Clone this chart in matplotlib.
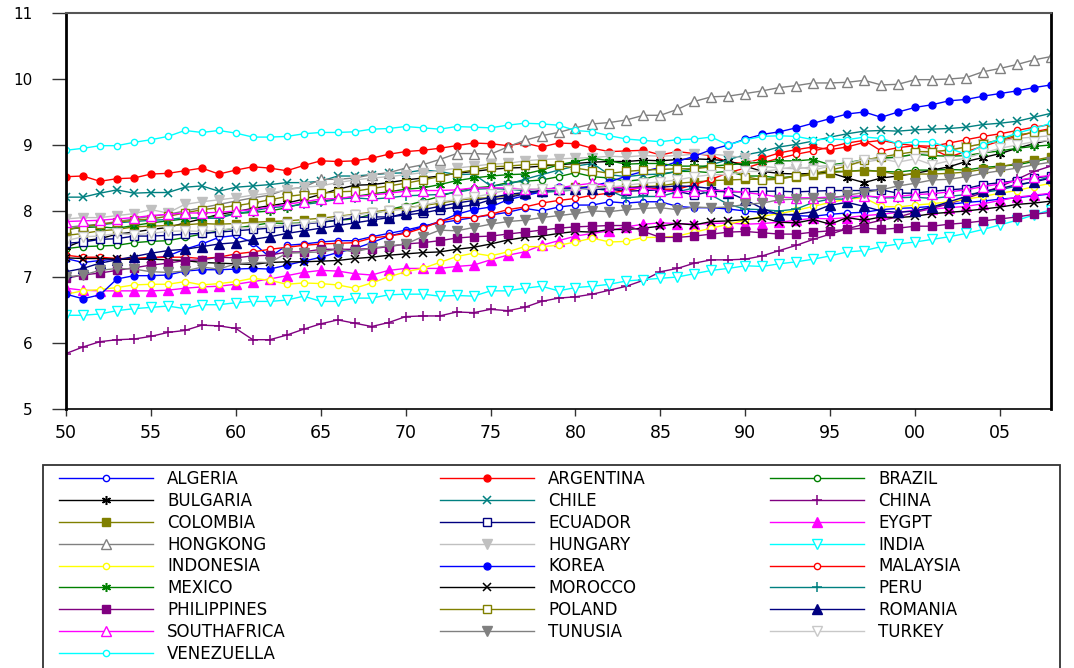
import matplotlib
matplotlib.use("Agg")
import matplotlib.pyplot as plt
from matplotlib.patches import Rectangle

plt.rcParams['font.family'] = ['DejaVu Sans']

years = list(range(1950, 2009))

countries = ["ALGERIA", "ARGENTINA", "BRAZIL", "BULGARIA", "CHILE", "CHINA",
             "COLOMBIA", "ECUADOR", "EYGPT", "HONGKONG", "HUNGARY", "INDIA",
             "INDONESIA", "KOREA", "MALAYSIA", "MEXICO", "MOROCCO", "PERU",
             "PHILIPPINES", "POLAND", "ROMANIA", "SOUTHAFRICA", "TUNUSIA",
             "TURKEY", "VENEZUELLA"]

algeria = [7.28, 7.22, 7.25, 7.27, 7.27, 7.28, 7.32, 7.42, 7.50, 7.60,
           7.63, 7.52, 7.30, 7.48, 7.50, 7.53, 7.55, 7.55, 7.61, 7.66,
           7.71, 7.77, 7.82, 7.86, 7.90, 7.94, 7.98, 8.04, 8.00, 8.06,
           8.09, 8.09, 8.14, 8.12, 8.14, 8.14, 8.07, 8.05, 8.05, 8.03,
           8.00, 7.98, 7.96, 7.93, 7.92, 7.95, 7.97, 7.98, 8.02, 8.04,
           8.05, 8.07, 8.10, 8.13, 8.15, 8.18, 8.20, 8.23, 8.26]
argentina = [8.52, 8.53, 8.45, 8.49, 8.50, 8.56, 8.57, 8.61, 8.65, 8.56,
             8.62, 8.67, 8.65, 8.61, 8.69, 8.76, 8.75, 8.76, 8.80, 8.86,
             8.90, 8.92, 8.95, 8.99, 9.03, 9.02, 8.99, 9.03, 8.97, 9.03,
             9.02, 8.95, 8.90, 8.91, 8.92, 8.85, 8.90, 8.87, 8.84, 8.74,
             8.72, 8.80, 8.88, 8.93, 8.97, 8.93, 8.97, 9.04, 9.07, 9.02,
             8.99, 8.94, 8.82, 8.90, 8.98, 9.06, 9.13, 9.20, 9.25]
brazil = [7.43, 7.46, 7.47, 7.48, 7.52, 7.54, 7.55, 7.60, 7.65, 7.70,
          7.74, 7.78, 7.82, 7.81, 7.82, 7.83, 7.86, 7.88, 7.95, 8.02,
          8.08, 8.15, 8.22, 8.30, 8.35, 8.37, 8.43, 8.45, 8.47, 8.52,
          8.58, 8.52, 8.50, 8.45, 8.48, 8.55, 8.60, 8.60, 8.58, 8.60,
          8.53, 8.53, 8.50, 8.53, 8.57, 8.60, 8.60, 8.62, 8.60, 8.59,
          8.62, 8.62, 8.63, 8.62, 8.66, 8.68, 8.70, 8.75, 8.80]
bulgaria = [7.45, 7.55, 7.58, 7.65, 7.68, 7.72, 7.75, 7.82, 7.88, 7.95,
            7.99, 8.04, 8.08, 8.12, 8.18, 8.25, 8.33, 8.39, 8.40, 8.43,
            8.47, 8.50, 8.53, 8.57, 8.60, 8.63, 8.65, 8.66, 8.68, 8.70,
            8.72, 8.74, 8.75, 8.75, 8.77, 8.76, 8.78, 8.79, 8.78, 8.76,
            8.68, 8.60, 8.57, 8.56, 8.57, 8.58, 8.50, 8.43, 8.50, 8.53,
            8.57, 8.62, 8.67, 8.75, 8.81, 8.87, 8.95, 9.02, 9.08]
chile = [8.21, 8.21, 8.27, 8.32, 8.27, 8.28, 8.28, 8.36, 8.38, 8.30,
         8.36, 8.38, 8.40, 8.43, 8.43, 8.45, 8.53, 8.53, 8.55, 8.57,
         8.58, 8.62, 8.60, 8.55, 8.56, 8.38, 8.40, 8.48, 8.55, 8.62,
         8.68, 8.72, 8.55, 8.52, 8.55, 8.56, 8.60, 8.64, 8.70, 8.78,
         8.85, 8.90, 8.97, 9.01, 9.06, 9.12, 9.17, 9.21, 9.22, 9.21,
         9.23, 9.24, 9.25, 9.27, 9.31, 9.33, 9.36, 9.42, 9.48]
china = [5.84, 5.94, 6.02, 6.05, 6.06, 6.10, 6.16, 6.19, 6.27, 6.26,
         6.22, 6.05, 6.05, 6.12, 6.21, 6.29, 6.35, 6.30, 6.25, 6.31,
         6.40, 6.41, 6.41, 6.47, 6.46, 6.51, 6.49, 6.54, 6.63, 6.68,
         6.70, 6.74, 6.80, 6.86, 6.95, 7.08, 7.13, 7.21, 7.26, 7.26,
         7.27, 7.32, 7.40, 7.48, 7.57, 7.65, 7.73, 7.80, 7.86, 7.91,
         7.98, 8.04, 8.11, 8.19, 8.28, 8.37, 8.48, 8.60, 8.68]
colombia = [7.63, 7.66, 7.70, 7.72, 7.76, 7.77, 7.78, 7.79, 7.81, 7.80,
            7.81, 7.83, 7.84, 7.85, 7.87, 7.89, 7.92, 7.95, 7.98, 8.02,
            8.05, 8.08, 8.12, 8.16, 8.19, 8.20, 8.23, 8.26, 8.31, 8.34,
            8.36, 8.37, 8.36, 8.36, 8.37, 8.38, 8.42, 8.44, 8.46, 8.47,
            8.48, 8.48, 8.50, 8.52, 8.55, 8.58, 8.60, 8.61, 8.60, 8.55,
            8.56, 8.56, 8.57, 8.59, 8.63, 8.67, 8.72, 8.77, 8.82]
ecuador = [7.51, 7.53, 7.57, 7.58, 7.62, 7.62, 7.63, 7.65, 7.66, 7.68,
           7.70, 7.72, 7.74, 7.76, 7.80, 7.83, 7.86, 7.90, 7.91, 7.91,
           7.94, 7.97, 8.02, 8.06, 8.09, 8.17, 8.20, 8.26, 8.29, 8.32,
           8.34, 8.36, 8.33, 8.30, 8.31, 8.32, 8.30, 8.24, 8.30, 8.29,
           8.29, 8.30, 8.30, 8.29, 8.30, 8.31, 8.31, 8.31, 8.32, 8.27,
           8.27, 8.30, 8.32, 8.34, 8.40, 8.43, 8.46, 8.50, 8.53]
egypt = [6.83, 6.80, 6.79, 6.79, 6.79, 6.79, 6.80, 6.83, 6.85, 6.86,
         6.89, 6.93, 6.97, 7.02, 7.07, 7.10, 7.09, 7.05, 7.03, 7.10,
         7.13, 7.13, 7.13, 7.16, 7.18, 7.26, 7.33, 7.38, 7.48, 7.55,
         7.62, 7.66, 7.70, 7.76, 7.80, 7.82, 7.81, 7.80, 7.81, 7.82,
         7.80, 7.81, 7.83, 7.86, 7.89, 7.88, 7.90, 7.93, 7.95, 7.98,
         8.01, 8.03, 8.05, 8.07, 8.11, 8.16, 8.21, 8.24, 8.27]
hongkong = [7.75, 7.78, 7.80, 7.84, 7.88, 7.92, 7.95, 8.00, 8.05, 8.10,
            8.15, 8.20, 8.24, 8.33, 8.36, 8.48, 8.48, 8.50, 8.55, 8.58,
            8.65, 8.70, 8.78, 8.87, 8.87, 8.86, 8.97, 9.07, 9.14, 9.19,
            9.26, 9.32, 9.34, 9.38, 9.45, 9.45, 9.54, 9.66, 9.73, 9.74,
            9.78, 9.82, 9.87, 9.90, 9.94, 9.94, 9.95, 9.98, 9.91, 9.92,
            9.99, 9.99, 10.00, 10.02, 10.11, 10.16, 10.22, 10.29, 10.34]
hungary = [7.88, 7.90, 7.90, 7.93, 7.96, 8.02, 7.97, 8.10, 8.14, 8.17,
           8.20, 8.24, 8.27, 8.32, 8.36, 8.38, 8.43, 8.47, 8.50, 8.52,
           8.55, 8.58, 8.61, 8.65, 8.68, 8.71, 8.72, 8.76, 8.78, 8.79,
           8.80, 8.81, 8.83, 8.82, 8.84, 8.83, 8.84, 8.86, 8.86, 8.84,
           8.80, 8.68, 8.65, 8.64, 8.67, 8.69, 8.70, 8.74, 8.78, 8.81,
           8.86, 8.89, 8.93, 8.97, 9.02, 9.06, 9.10, 9.12, 9.14]
india = [6.42, 6.42, 6.44, 6.49, 6.52, 6.54, 6.56, 6.52, 6.58, 6.58,
         6.61, 6.63, 6.63, 6.65, 6.71, 6.63, 6.63, 6.68, 6.68, 6.73,
         6.74, 6.74, 6.71, 6.72, 6.71, 6.79, 6.79, 6.83, 6.86, 6.79,
         6.84, 6.86, 6.89, 6.94, 6.96, 6.98, 7.00, 7.05, 7.10, 7.13,
         7.17, 7.16, 7.20, 7.23, 7.27, 7.32, 7.38, 7.40, 7.46, 7.50,
         7.53, 7.57, 7.61, 7.66, 7.72, 7.79, 7.86, 7.94, 8.02]
indonesia = [6.74, 6.79, 6.81, 6.84, 6.88, 6.89, 6.89, 6.93, 6.88, 6.90,
             6.93, 6.98, 6.95, 6.89, 6.91, 6.90, 6.88, 6.83, 6.91, 7.00,
             7.08, 7.13, 7.22, 7.31, 7.36, 7.32, 7.38, 7.46, 7.46, 7.48,
             7.53, 7.59, 7.53, 7.54, 7.60, 7.60, 7.62, 7.68, 7.74, 7.80,
             7.86, 7.92, 7.96, 8.01, 8.07, 8.13, 8.18, 8.20, 8.07, 8.06,
             8.09, 8.11, 8.14, 8.18, 8.22, 8.27, 8.31, 8.37, 8.42]
korea = [6.74, 6.67, 6.73, 6.97, 7.02, 7.02, 7.03, 7.09, 7.11, 7.11,
         7.12, 7.13, 7.12, 7.18, 7.24, 7.30, 7.37, 7.43, 7.52, 7.62,
         7.68, 7.76, 7.84, 7.95, 8.02, 8.06, 8.17, 8.23, 8.29, 8.37,
         8.33, 8.38, 8.44, 8.53, 8.60, 8.66, 8.75, 8.83, 8.93, 9.00,
         9.09, 9.16, 9.20, 9.26, 9.33, 9.40, 9.47, 9.50, 9.42, 9.50,
         9.57, 9.61, 9.67, 9.69, 9.74, 9.78, 9.82, 9.87, 9.91]
malaysia = [7.33, 7.30, 7.30, 7.28, 7.28, 7.30, 7.30, 7.30, 7.28, 7.30,
            7.35, 7.38, 7.42, 7.45, 7.48, 7.50, 7.51, 7.52, 7.59, 7.62,
            7.66, 7.74, 7.84, 7.90, 7.90, 7.95, 8.02, 8.06, 8.12, 8.16,
            8.19, 8.24, 8.27, 8.31, 8.36, 8.33, 8.33, 8.40, 8.48, 8.58,
            8.65, 8.73, 8.80, 8.86, 8.91, 8.97, 9.03, 9.07, 8.91, 8.96,
            8.99, 8.98, 9.03, 9.08, 9.13, 9.17, 9.22, 9.27, 9.31]
mexico = [7.72, 7.75, 7.76, 7.74, 7.78, 7.82, 7.85, 7.88, 7.90, 7.92,
          7.96, 7.98, 8.00, 8.05, 8.12, 8.15, 8.18, 8.22, 8.26, 8.29,
          8.33, 8.35, 8.40, 8.46, 8.50, 8.53, 8.55, 8.56, 8.62, 8.70,
          8.75, 8.80, 8.76, 8.71, 8.72, 8.72, 8.68, 8.68, 8.68, 8.70,
          8.72, 8.74, 8.76, 8.76, 8.78, 8.70, 8.73, 8.78, 8.80, 8.82,
          8.86, 8.84, 8.83, 8.84, 8.88, 8.91, 8.95, 8.98, 9.00]
morocco = [7.29, 7.28, 7.28, 7.27, 7.27, 7.27, 7.26, 7.25, 7.22, 7.21,
           7.20, 7.19, 7.22, 7.23, 7.23, 7.24, 7.25, 7.28, 7.30, 7.33,
           7.35, 7.37, 7.38, 7.42, 7.45, 7.50, 7.56, 7.60, 7.62, 7.66,
           7.69, 7.68, 7.72, 7.72, 7.74, 7.77, 7.81, 7.79, 7.84, 7.85,
           7.87, 7.90, 7.83, 7.82, 7.87, 7.80, 7.90, 7.86, 7.91, 7.90,
           7.92, 7.96, 7.98, 8.00, 8.03, 8.06, 8.10, 8.12, 8.15]
peru = [7.72, 7.76, 7.79, 7.82, 7.84, 7.86, 7.87, 7.90, 7.89, 7.89,
        7.96, 8.00, 8.05, 8.07, 8.10, 8.13, 8.18, 8.20, 8.18, 8.20,
        8.23, 8.24, 8.25, 8.28, 8.33, 8.34, 8.33, 8.31, 8.28, 8.30,
        8.32, 8.34, 8.31, 8.20, 8.22, 8.22, 8.29, 8.35, 8.24, 8.10,
        8.03, 8.02, 8.00, 8.03, 8.13, 8.18, 8.18, 8.23, 8.20, 8.20,
        8.21, 8.19, 8.22, 8.25, 8.28, 8.32, 8.38, 8.45, 8.52]
philippines = [6.98, 7.03, 7.06, 7.10, 7.14, 7.18, 7.21, 7.25, 7.26, 7.30,
               7.29, 7.32, 7.33, 7.38, 7.38, 7.42, 7.42, 7.42, 7.43, 7.46,
               7.50, 7.52, 7.55, 7.59, 7.61, 7.62, 7.65, 7.68, 7.71, 7.74,
               7.76, 7.77, 7.78, 7.78, 7.69, 7.60, 7.60, 7.62, 7.65, 7.68,
               7.69, 7.67, 7.65, 7.65, 7.68, 7.70, 7.72, 7.74, 7.72, 7.74,
               7.77, 7.77, 7.80, 7.82, 7.85, 7.88, 7.91, 7.95, 7.98]
poland = [7.72, 7.76, 7.80, 7.83, 7.86, 7.88, 7.92, 7.97, 8.02, 8.05,
          8.08, 8.12, 8.17, 8.22, 8.25, 8.27, 8.29, 8.30, 8.34, 8.38,
          8.42, 8.47, 8.52, 8.58, 8.62, 8.67, 8.68, 8.70, 8.71, 8.69,
          8.65, 8.61, 8.57, 8.60, 8.62, 8.63, 8.64, 8.64, 8.67, 8.65,
          8.52, 8.47, 8.48, 8.53, 8.57, 8.62, 8.68, 8.77, 8.82, 8.86,
          8.90, 8.90, 8.92, 8.97, 9.02, 9.08, 9.15, 9.19, 9.23]
romania = [7.08, 7.13, 7.21, 7.26, 7.31, 7.36, 7.40, 7.42, 7.46, 7.50,
           7.52, 7.57, 7.61, 7.66, 7.70, 7.74, 7.78, 7.82, 7.86, 7.90,
           7.97, 8.02, 8.07, 8.12, 8.16, 8.20, 8.25, 8.28, 8.31, 8.33,
           8.33, 8.33, 8.33, 8.34, 8.37, 8.36, 8.38, 8.37, 8.34, 8.28,
           8.17, 8.04, 7.94, 7.95, 7.99, 8.09, 8.13, 8.07, 8.00, 7.98,
           8.00, 8.06, 8.14, 8.22, 8.30, 8.34, 8.40, 8.44, 8.50]
southafrica = [7.84, 7.85, 7.86, 7.88, 7.90, 7.93, 7.95, 7.97, 7.97, 7.98,
               8.00, 8.02, 8.06, 8.10, 8.14, 8.18, 8.19, 8.22, 8.24, 8.27,
               8.30, 8.31, 8.31, 8.32, 8.35, 8.35, 8.35, 8.33, 8.33, 8.35,
               8.39, 8.42, 8.38, 8.34, 8.35, 8.31, 8.29, 8.30, 8.31, 8.31,
               8.28, 8.25, 8.21, 8.20, 8.20, 8.21, 8.22, 8.23, 8.21, 8.22,
               8.25, 8.26, 8.29, 8.32, 8.37, 8.41, 8.46, 8.51, 8.54]
tunisia = [7.00, 7.03, 7.10, 7.13, 7.12, 7.08, 7.07, 7.09, 7.15, 7.12,
           7.20, 7.22, 7.22, 7.36, 7.37, 7.38, 7.42, 7.38, 7.44, 7.47,
           7.50, 7.61, 7.71, 7.70, 7.75, 7.80, 7.84, 7.86, 7.90, 7.93,
           7.96, 8.00, 7.99, 8.02, 8.04, 8.05, 8.02, 8.06, 8.05, 8.06,
           8.10, 8.12, 8.17, 8.18, 8.19, 8.19, 8.24, 8.28, 8.32, 8.38,
           8.42, 8.47, 8.48, 8.52, 8.57, 8.61, 8.65, 8.70, 8.74]
turkey = [7.55, 7.61, 7.62, 7.66, 7.64, 7.66, 7.69, 7.70, 7.69, 7.71,
          7.74, 7.75, 7.76, 7.80, 7.81, 7.84, 7.91, 7.94, 7.97, 8.00,
          8.03, 8.09, 8.14, 8.17, 8.21, 8.26, 8.32, 8.34, 8.33, 8.32,
          8.32, 8.34, 8.36, 8.39, 8.42, 8.44, 8.47, 8.52, 8.55, 8.55,
          8.60, 8.60, 8.63, 8.68, 8.62, 8.68, 8.72, 8.78, 8.79, 8.74,
          8.79, 8.70, 8.76, 8.80, 8.88, 8.95, 9.00, 9.05, 9.07]
venezuela = [8.92, 8.95, 8.99, 8.99, 9.04, 9.08, 9.13, 9.22, 9.19, 9.22,
             9.18, 9.12, 9.12, 9.13, 9.17, 9.19, 9.19, 9.20, 9.24, 9.25,
             9.28, 9.26, 9.24, 9.28, 9.27, 9.26, 9.30, 9.33, 9.32, 9.30,
             9.22, 9.20, 9.14, 9.09, 9.07, 9.05, 9.08, 9.09, 9.12, 9.00,
             9.08, 9.13, 9.14, 9.13, 9.08, 9.09, 9.08, 9.12, 9.10, 9.02,
             9.05, 9.05, 8.95, 8.86, 9.00, 9.09, 9.18, 9.25, 9.33]

series_values = [algeria, argentina, brazil, bulgaria, chile, china, colombia,
                 ecuador, egypt, hongkong, hungary, india, indonesia, korea,
                 malaysia, mexico, morocco, peru, philippines, poland, romania,
                 southafrica, tunisia, turkey, venezuela]

xtick_years = list(range(1950, 2009, 5))
xtick_labels = ["50", "55", "60", "65", "70", "75", "80", "85", "90", "95", "00", "05"]
ytick_values = [5, 6, 7, 8, 9, 10, 11]

# style: (color, marker, filled, markersize)
styles = [
    ("#0000FF", "o", False, 4.5),   # ALGERIA
    ("#FF0000", "o", True, 5.0),    # ARGENTINA
    ("#008000", "o", False, 4.5),   # BRAZIL
    ("#000000", (6, 2, 0), True, 6.5),  # BULGARIA
    ("#008080", "x", True, 5.5),    # CHILE
    ("#800080", "+", True, 6.5),    # CHINA
    ("#808000", "s", True, 5.5),    # COLOMBIA
    ("#000080", "s", False, 5.5),   # ECUADOR
    ("#FF00FF", "^", True, 6.5),    # EYGPT
    ("#808080", "^", False, 6.5),   # HONGKONG
    ("#C0C0C0", "v", True, 6.5),    # HUNGARY
    ("#00FFFF", "v", False, 6.5),   # INDIA
    ("#FFFF00", "o", False, 4.5),   # INDONESIA
    ("#0000FF", "o", True, 5.0),    # KOREA
    ("#FF0000", "o", False, 4.5),   # MALAYSIA
    ("#008000", (6, 2, 0), True, 6.5),  # MEXICO
    ("#000000", "x", True, 5.5),    # MOROCCO
    ("#008080", "+", True, 6.5),    # PERU
    ("#800080", "s", True, 5.5),    # PHILIPPINES
    ("#808000", "s", False, 5.5),   # POLAND
    ("#000080", "^", True, 6.5),    # ROMANIA
    ("#FF00FF", "^", False, 6.5),   # SOUTHAFRICA
    ("#808080", "v", True, 6.5),    # TUNUSIA
    ("#C8C8C8", "v", False, 6.5),   # TURKEY
    ("#00FFFF", "o", False, 4.5),   # VENEZUELLA
]

W, H = 1074, 668
fig = plt.figure(figsize=(W / 100, H / 100), dpi=100)
ax = fig.add_axes([66 / W, 1 - 409 / H, (1051 - 66) / W, (409 - 13) / H])

handles = []
for name, vals, (c, m, filled, ms) in zip(countries, series_values, styles):
    mew = 1.1 if m in ("x", "+", (6, 2, 0)) else 1.0
    h, = ax.plot(years, vals, color=c, lw=1.0, marker=m, ms=ms,
                 mfc=(c if filled else "white"), mec=c, mew=mew, label=name)
    handles.append(h)

ax.set_xlim(1950, 2008)
ax.set_ylim(5, 11)
ax.set_xticks(xtick_years)
ax.set_xticklabels(xtick_labels)
ax.set_yticks(ytick_values)
ax.set_yticklabels([str(v) for v in ytick_values])
ax.tick_params(axis="y", direction="out", length=10, width=1.0, color="#333333",
               labelsize=11, pad=14)
ax.tick_params(axis="x", direction="out", length=5, width=1.0, color="#333333",
               labelsize=12.5, pad=6)
ax.spines["left"].set_linewidth(2.0)
ax.spines["right"].set_linewidth(2.0)
ax.spines["bottom"].set_linewidth(1.2)
ax.spines["top"].set_linewidth(1.5)
ax.spines["top"].set_color("#555555")

# legend frame
fig.add_artist(Rectangle((43 / W, -0.05), (1060 - 43) / W, (1 - 465 / H) + 0.05,
                         transform=fig.transFigure, fill=False,
                         edgecolor="#333333", lw=1.3, clip_on=False))

col_x = [59, 440, 770]
fs = 12
px_per_em = fs * 100 / 72
for c in range(3):
    idx = list(range(c, len(countries), 3))
    fig.legend(handles=[handles[i] for i in idx],
               labels=[countries[i] for i in idx],
               loc="upper left", bbox_to_anchor=(col_x[c] / W, 1 - 470 / H),
               bbox_transform=fig.transFigure, frameon=False, borderpad=0,
               borderaxespad=0, handlelength=94 / px_per_em,
               handletextpad=14 / px_per_em, labelspacing=0.23,
               fontsize=fs, numpoints=1)

fig.savefig("out.png", dpi=100)
